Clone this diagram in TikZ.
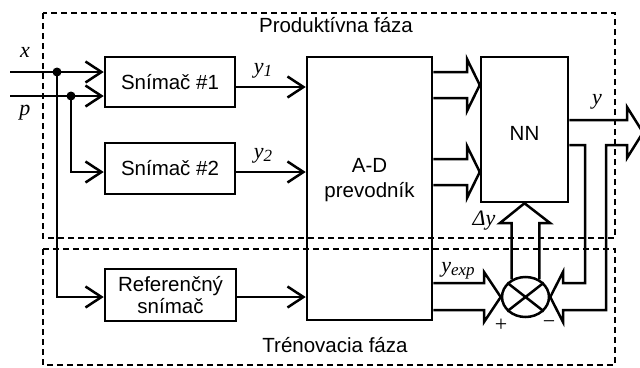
\documentclass[tikz,border=0pt]{standalone}
\usepackage{fontspec}
\setmainfont{Liberation Sans}
\newfontfamily\lblfont{Liberation Serif}
\usetikzlibrary{arrows.meta,shapes.geometric}
\newcommand\mysub[1]{\raisebox{-3pt}{\fontsize{17}{17}\selectfont #1}}
\begin{document}
\begin{tikzpicture}[x=1pt,y=-1pt,line width=2.5pt,line join=miter,
  box/.style={draw,line width=2.5pt,inner sep=0pt,font=\fontsize{20.5}{22}\selectfont,align=center},
  txt/.style={inner sep=0pt,font=\fontsize{20.5}{22}\selectfont,align=center},
  lbl/.style={inner sep=0pt,font=\lblfont\itshape\fontsize{22}{22}\selectfont},
  pm/.style={inner sep=0pt,font=\lblfont\fontsize{22}{22}\selectfont},
  sig/.style={line width=2.5pt,-{Straight Barb[length=16pt,width=21pt,line width=2.5pt]}},
  fat/.style={line width=2.5pt,line join=miter},
  phase/.style={dash pattern=on 6pt off 4pt,line width=1.5pt},
  dot/.style={circle,fill,inner sep=0pt,minimum size=9pt}]
\useasboundingbox (0,0) rectangle (640,367);

% phase frames
\draw[phase] (43,13) rectangle (615,238);
\draw[phase] (43,249) rectangle (615,365);
\node[txt] (prod) at (336,25) {Produktívna fáza};
\node[txt] (tren) at (335,345) {Trénovacia fáza};

% blocks
\node[box,minimum width=130pt,minimum height=50pt] (s1) at (170,82) {Snímač \#1};
\node[box,minimum width=130pt,minimum height=51pt] (s2) at (170,168.5) {Snímač \#2};
\node[box,minimum width=131pt,minimum height=52pt] (ref) at (170.5,295) {Referenčný\\snímač};
\node[box,minimum width=125pt,minimum height=263pt] (ad) at (369.5,188.5) {};
\node[txt,font=\fontsize{20.5}{25}\selectfont] (adt) at (369.5,180) {A-D\\prevodník};
\node[box,minimum width=87pt,minimum height=145pt] (nn) at (524.5,129.5) {};
\node[txt] (nnt) at (524.5,133) {NN};
\node[draw,ellipse,line width=2.5pt,minimum width=47pt,minimum height=40pt,inner sep=0pt,fill=white] (cmp) at (525.5,297) {};
\draw (cmp.38) -- (cmp.218);
\draw (cmp.142) -- (cmp.322);

% rows
\coordinate (rx) at (0,72);
\coordinate (rp) at (0,96);
\coordinate (r1) at (0,87);
\coordinate (r2) at (0,172);
\coordinate (rr) at (0,297);
\coordinate (xin) at (10,72);
\coordinate (pin) at (10,96);
\coordinate (yout) at (643,132.5);

% inputs
\draw[sig] (xin) -- (s1.west |- rx);
\draw[sig] (pin) -- (s1.west |- rp);
\node[dot] (dx) at (57,72) {};
\node[dot] (dp) at (71,96) {};
\draw[sig] (dp.center) |- (s2.west |- r2);
\draw[sig] (dx.center) |- (ref.west |- rr);

% sensor outputs
\draw[sig] (s1.east |- r1) -- (ad.west |- r1);
\draw[sig] (s2.east |- r2) -- (ad.west |- r2);
\draw[sig] (ref.east |- rr) -- (ad.west |- rr);

% A-D to NN
\draw[fat] (ad.east |- 0,72) -- (467,72) -- (467,59) -- (nn.west |- 0,85) -- (467,111) -- (467,98) -- (ad.east |- 0,98);
\draw[fat] (ad.east |- 0,159) -- (467,159) -- (467,146) -- (nn.west |- 0,172) -- (467,198) -- (467,185) -- (ad.east |- 0,185);

% expected value to comparator
\draw[fat] (ad.east |- 0,283) -- (484,283) -- (484,272) -- (cmp.west) -- (484,322) -- (484,310) -- (ad.east |- 0,310);

% NN output, branch to comparator
\draw[fat] (nn.east |- 0,120) -- (627,120) -- (627,107) -- (yout) -- (627,158) -- (627,145) -- (606,145) -- (606,310) -- (563,310) -- (563,322) -- (cmp.east) -- (563,272) -- (563,283) -- (585,283) -- (585,145) -- (nn.east |- 0,145);

% error back to NN
\draw[fat] (cmp.128) -- (cmp.128 |- 0,223) -- (500,223) -- (nn.south) -- (550,223) -- (cmp.52 |- 0,223) -- (cmp.52);

% labels
\node[lbl] (lx) at (25,52) {x};
\node[lbl] (lp) at (25,113) {p};
\node[lbl] (ly1) at (263,71) {y\mysub{1}};
\node[lbl] (ly2) at (263,156) {y\mysub{2}};
\node[lbl] (ly) at (597,102) {y};
\node[lbl] (lyexp) at (458,271) {y\mysub{exp}};
\node[lbl] (ldy) at (484,221) {Δy};
\node[pm] (lplus) at (501,325) {+};
\node[pm] (lminus) at (549,325) {−};
\end{tikzpicture}
\end{document}
